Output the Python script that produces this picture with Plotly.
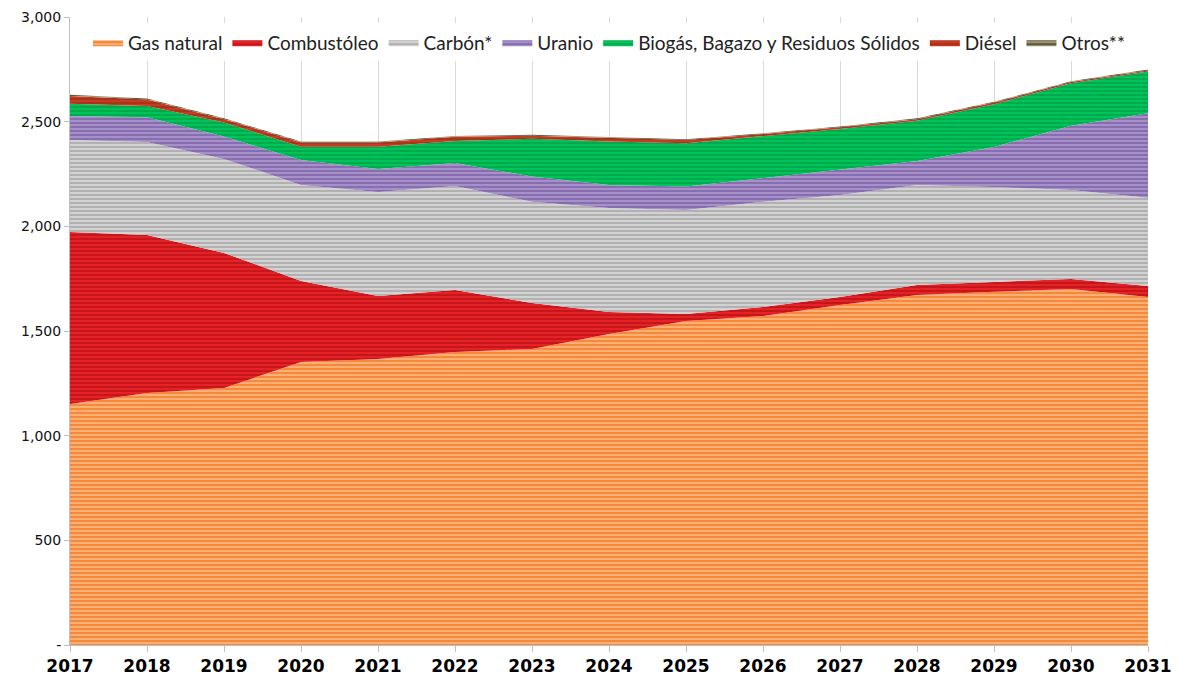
import plotly.graph_objects as go

# Years on the horizontal axis
years = list(range(2017, 2032))

# Fuel consumption by source (stacked), one list per series
gas_natural = [1151, 1204, 1228, 1352, 1366, 1400, 1414, 1486, 1548, 1572, 1624, 1672, 1687, 1701, 1663]
combustoleo = [822, 755, 645, 387, 301, 296, 220, 105, 33, 43, 39, 48, 47, 48, 52]
carbon = [440, 444, 449, 459, 497, 497, 483, 497, 497, 502, 487, 478, 454, 425, 421]
uranio = [114, 118, 107, 119, 110, 109, 121, 110, 112, 114, 120, 114, 191, 307, 404]
biogas = [58, 54, 67, 63, 106, 106, 180, 207, 207, 201, 195, 192, 204, 202, 200]
diesel = [38, 31, 16, 21, 21, 20, 15, 16, 15, 9, 8, 8, 8, 6, 5]
otros = [5, 5, 4, 4, 4, 4, 4, 4, 4, 4, 4, 4, 4, 4, 4]

# Y-axis ticks
y_ticks = [0, 500, 1000, 1500, 2000, 2500, 3000]
y_tick_text = ["-", "500", "1,000", "1,500", "2,000", "2,500", "3,000"]

series = [
    ("Gas natural", gas_natural, "#F5893A", "#FBB47E"),
    ("Combustóleo", combustoleo, "#E52226", "#C3141A"),
    ("Carbón*", carbon, "#D2D2D2", "#AEAEAE"),
    ("Uranio", uranio, "#A690C8", "#8569AF"),
    ("Biogás, Bagazo y Residuos Sólidos", biogas, "#00C35A", "#00A84B"),
    ("Diésel", diesel, "#C63C22", "#AA3019"),
    ("Otros**", otros, "#9C9474", "#5A5338"),
]

fig = go.Figure()
for name, values, bg, fg in series:
    fig.add_trace(go.Scatter(
        x=years,
        y=values,
        name=name,
        mode="lines",
        stackgroup="one",
        line=dict(width=0, color=bg),
        fillcolor=bg,
        fillpattern=dict(shape="-", bgcolor=bg, fgcolor=fg, size=4, solidity=0.45,
                         fillmode="replace"),
        hoverinfo="x+y+name",
    ))

fig.update_layout(
    width=1180,
    height=685,
    margin=dict(l=70, r=32, t=17, b=40, autoexpand=False),
    paper_bgcolor="white",
    plot_bgcolor="white",
    font=dict(family="DejaVu Sans", color="#000000"),
    showlegend=True,
    legend=dict(
        orientation="h",
        traceorder="normal",
        x=0.5,
        xanchor="center",
        y=0.99,
        yanchor="top",
        bgcolor="white",
        font=dict(family="Lato", size=19, color="#222222"),
        itemwidth=30,
        tracegroupgap=0,
        itemsizing="constant",
    ),
    xaxis=dict(
        range=[2017, 2031],
        tickmode="array",
        tickvals=years,
        ticktext=[str(y) for y in years],
        showgrid=True,
        gridcolor="#D9D9D9",
        gridwidth=1,
        showline=True,
        linecolor="#BFBFBF",
        ticks="outside",
        ticklen=6,
        tickcolor="#BFBFBF",
        tickfont=dict(family="DejaVu Sans", size=17, color="#000000", weight="bold"),
        zeroline=False,
        automargin=False,
        fixedrange=True,
    ),
    yaxis=dict(
        range=[0, 3000],
        tickmode="array",
        tickvals=y_ticks,
        ticktext=y_tick_text,
        showgrid=False,
        showline=True,
        linecolor="#BFBFBF",
        ticks="outside",
        ticklen=5,
        tickcolor="#BFBFBF",
        tickfont=dict(family="DejaVu Sans", size=14, color="#111111"),
        zeroline=False,
        automargin=False,
        fixedrange=True,
    ),
)

fig.write_html("out.html")
